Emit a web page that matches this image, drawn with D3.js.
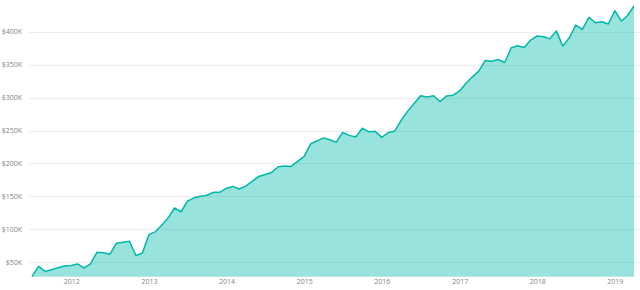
<!DOCTYPE html>
<html>
<head>
<meta charset="utf-8">
<script src="https://cdn.jsdelivr.net/npm/d3@7"></script>
<style>
  html, body { margin: 0; padding: 0; background: #fff; }
  svg { display: block; }
  text { font-family: "Open Sans", "Noto Sans", sans-serif; }
</style>
</head>
<body>
<svg id="chart" width="640" height="290"></svg>
<script>
const months = [
  "2011-07","2011-08","2011-09","2011-10","2011-11","2011-12",
  "2012-01","2012-02","2012-03","2012-04","2012-05","2012-06","2012-07","2012-08","2012-09","2012-10","2012-11","2012-12",
  "2013-01","2013-02","2013-03","2013-04","2013-05","2013-06","2013-07","2013-08","2013-09","2013-10","2013-11","2013-12",
  "2014-01","2014-02","2014-03","2014-04","2014-05","2014-06","2014-07","2014-08","2014-09","2014-10","2014-11","2014-12",
  "2015-01","2015-02","2015-03","2015-04","2015-05","2015-06","2015-07","2015-08","2015-09","2015-10","2015-11","2015-12",
  "2016-01","2016-02","2016-03","2016-04","2016-05","2016-06","2016-07","2016-08","2016-09","2016-10","2016-11","2016-12",
  "2017-01","2017-02","2017-03","2017-04","2017-05","2017-06","2017-07","2017-08","2017-09","2017-10","2017-11","2017-12",
  "2018-01","2018-02","2018-03","2018-04","2018-05","2018-06","2018-07","2018-08","2018-09","2018-10","2018-11","2018-12",
  "2019-01","2019-02","2019-03","2019-04"
];
const values = [
  28300, 43900, 36300, 38900, 42000, 44500,
  45400, 47600, 41500, 47600, 65200, 64700, 62200, 79100, 80400, 82000, 60200, 64300,
  92100, 96700, 105800, 117500, 132500, 126800, 142800, 147900, 150300, 151900, 156400, 156400,
  162500, 165300, 161300, 165600, 172700, 180300, 183300, 186400, 195000, 196000, 195500, 203100,
  210700, 230000, 234000, 238800, 236000, 232300, 247000, 242600, 240300, 253500, 248000, 248700,
  239500, 247000, 249000, 265500, 279000, 290800, 302600, 300700, 302700, 294000, 302400, 303500,
  310000, 322000, 331000, 340000, 356000, 355100, 357700, 353100, 375400, 378400, 376000, 387100,
  393400, 392100, 389000, 401100, 378000, 390600, 409900, 403300, 421600, 413400, 414900, 411400,
  431600, 416000, 424000, 438800
];
const yTickValues = [50000, 100000, 150000, 200000, 250000, 300000, 350000, 400000];
const xTickYears = ["2012","2013","2014","2015","2016","2017","2018","2019"];

const parseMonth = d3.timeParse("%Y-%m");
const data = months.map((m, i) => ({ date: parseMonth(m), value: values[i] }));

const svg = d3.select("#chart");
const W = 640, H = 290;
const plot = { left: 32, right: 634, top: 6, bottom: 276.7 };

const x = d3.scaleTime()
  .domain(d3.extent(data, d => d.date))
  .range([plot.left, plot.right]);
const y = d3.scaleLinear()
  .domain(d3.extent(data, d => d.value))
  .range([plot.bottom, plot.top]);

const fmt = v => "$" + (v / 1000) + "K";

// gridlines
const grid = svg.append("g").attr("class", "grid");
grid.selectAll("line")
  .data(yTickValues)
  .join("line")
  .attr("x1", 29).attr("x2", W)
  .attr("y1", d => Math.round(y(d)) + 0.5)
  .attr("y2", d => Math.round(y(d)) + 0.5)
  .attr("stroke", "#ececec")
  .attr("stroke-width", 1);

// y axis labels
const yAxis = d3.axisLeft(y).tickValues(yTickValues).tickFormat(fmt).tickSize(0).tickPadding(0);
const gy = svg.append("g").attr("transform", "translate(22,0)").call(yAxis);
gy.select(".domain").remove();
gy.selectAll("text").attr("fill", "#858585").style("font-size", "7px");

// area and line
const area = d3.area()
  .x(d => x(d.date))
  .y0(plot.bottom)
  .y1(d => y(d.value));
const line = d3.line()
  .x(d => x(d.date))
  .y(d => y(d.value));

svg.append("path")
  .datum(data)
  .attr("d", area)
  .attr("fill", "#01B8AA")
  .attr("fill-opacity", 0.4);

svg.append("path")
  .datum(data)
  .attr("d", line)
  .attr("fill", "none")
  .attr("stroke", "#01B8AA")
  .attr("stroke-width", 1.5)
  .attr("stroke-linejoin", "round");

// x axis labels
const parseYear = d3.timeParse("%Y");
const xAxis = d3.axisBottom(x)
  .tickValues(xTickYears.map(parseYear))
  .tickFormat(d3.timeFormat("%Y"))
  .tickSize(0).tickPadding(0);
const gx = svg.append("g").attr("transform", "translate(0,279)").call(xAxis);
gx.select(".domain").remove();
gx.selectAll("text").attr("fill", "#858585").style("font-size", "7px");
</script>
</body>
</html>
